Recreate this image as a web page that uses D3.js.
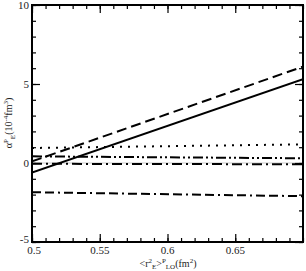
<!DOCTYPE html>
<html><head><meta charset="utf-8">
<script src="https://cdn.jsdelivr.net/npm/d3@7"></script>
<style>body{margin:0;background:#fff}text{font-family:"Liberation Serif","Times New Roman",serif}</style>
</head><body><svg id="c" width="306" height="271"></svg>
<script>
const xDomain = [0.5, 0.7];
const yDomain = [-5, 10];
const xTicks = [0.5, 0.55, 0.6, 0.65];
const xTickLabels = ["0.5", "0.55", "0.6", "0.65"];
const yTicks = [-5, 0, 5, 10];
const yTickLabels = ["-5", "0", "5", "10"];
const xEnds = [0.5, 0.7];
const solidLine = [-0.6, 5.3];
const dashedLine = [0.1, 6.1];
const dottedLine = [0.95, 1.18];
const dashDotDotLine = [0.42, 0.3];
const dashDotLine = [-0.05, -0.08];
const dashDashDotLine = [-1.85, -2.1];
const zeroLine = [0, 0];

const svg = d3.select("#c");
const L = 32, R = 303, T = 5, B = 242;
const x = d3.scaleLinear().domain(xDomain).range([L, R]);
const y = d3.scaleLinear().domain(yDomain).range([B, T]);

const line = d3.line().x((d,i)=>x(xEnds[i])).y(d=>y(d));
svg.append("path").attr("d", line(zeroLine)).attr("stroke","#bbb").attr("stroke-width",0.8).attr("fill","none");

const series = [
  {v: solidLine, dash: null},
  {v: dashedLine, dash: "10,5"},
  {v: dottedLine, dash: "2,6"},
  {v: dashDotDotLine, dash: "10,3,2,3,2,3"},
  {v: dashDotLine, dash: "10,4,2,4"},
  {v: dashDashDotLine, dash: "9,4,9,4,2,4"}
];
svg.append("clipPath").attr("id","cp").append("rect").attr("x",L).attr("y",T).attr("width",R-L).attr("height",B-T);
series.forEach(s=>{
  svg.append("path").attr("d", line(s.v)).attr("stroke","#000").attr("stroke-width",2)
    .attr("fill","none").attr("stroke-dasharray", s.dash).attr("clip-path","url(#cp)");
});

const xMinor = d3.range(0.5, 0.7001, 0.01);
const yMinor = d3.range(-5, 10.001, 1);
function ticksX(yPos, dir){
  svg.append("g").attr("transform",`translate(0,${yPos})`)
    .call(d3.axisBottom(x).tickValues(xMinor).tickSize(dir*4).tickFormat(""))
    .call(g=>g.select(".domain").remove()).selectAll("line").attr("stroke-width",1.2);
  svg.append("g").attr("transform",`translate(0,${yPos})`)
    .call(d3.axisBottom(x).tickValues(xTicks).tickSize(dir*8).tickFormat(""))
    .call(g=>g.select(".domain").remove()).selectAll("line").attr("stroke-width",1.2);
}
function ticksY(xPos, dir){
  svg.append("g").attr("transform",`translate(${xPos},0)`)
    .call(d3.axisLeft(y).tickValues(yMinor).tickSize(dir*4).tickFormat(""))
    .call(g=>g.select(".domain").remove()).selectAll("line").attr("stroke-width",1.2);
  svg.append("g").attr("transform",`translate(${xPos},0)`)
    .call(d3.axisLeft(y).tickValues(yTicks).tickSize(dir*8).tickFormat(""))
    .call(g=>g.select(".domain").remove()).selectAll("line").attr("stroke-width",1.2);
}
ticksX(B, -1); ticksX(T, 1); ticksY(L, -1); ticksY(R, 1);
svg.append("rect").attr("x",L).attr("y",T).attr("width",R-L).attr("height",B-T)
  .attr("fill","none").attr("stroke","#000").attr("stroke-width",2);

xTicks.forEach((t,i)=>{
  svg.append("text").attr("x",x(t) + (i===0?2:0)).attr("y",B+12).attr("text-anchor","middle")
    .attr("font-size",11).attr("fill","#222").text(xTickLabels[i]);
});
yTicks.forEach((t,i)=>{
  svg.append("text").attr("x",L-3).attr("y",y(t)+(i===0?1:4)).attr("text-anchor","end")
    .attr("font-size",11).attr("fill","#222").text(yTickLabels[i]);
});

const xl = svg.append("text").attr("x",168).attr("y",267).attr("text-anchor","middle").attr("font-size",10).attr("fill","#222");
xl.append("tspan").text("<r");
xl.append("tspan").attr("dy",-4).attr("font-size",7).text("2");
xl.append("tspan").attr("dy",6).attr("font-size",7).text("E");
xl.append("tspan").attr("dy",-2).text(">");
xl.append("tspan").attr("dy",-4).attr("font-size",7).text("P");
xl.append("tspan").attr("dy",6).attr("font-size",7).text("LO");
xl.append("tspan").attr("dy",-2).text("(fm");
xl.append("tspan").attr("dy",-4).attr("font-size",7).text("2");
xl.append("tspan").attr("dy",4).text(")");

const yl = svg.append("text").attr("transform","translate(12,123) rotate(-90)").attr("text-anchor","middle").attr("font-size",10).attr("fill","#222");
yl.append("tspan").text("α");
yl.append("tspan").attr("dy",-4).attr("font-size",7).text("P");
yl.append("tspan").attr("dy",7).attr("font-size",7).text("E");
yl.append("tspan").attr("dy",-3).text("(10");
yl.append("tspan").attr("dy",-4).attr("font-size",7).text("-4");
yl.append("tspan").attr("dy",4).text("fm");
yl.append("tspan").attr("dy",-4).attr("font-size",7).text("3");
yl.append("tspan").attr("dy",4).text(")");
</script></body></html>
